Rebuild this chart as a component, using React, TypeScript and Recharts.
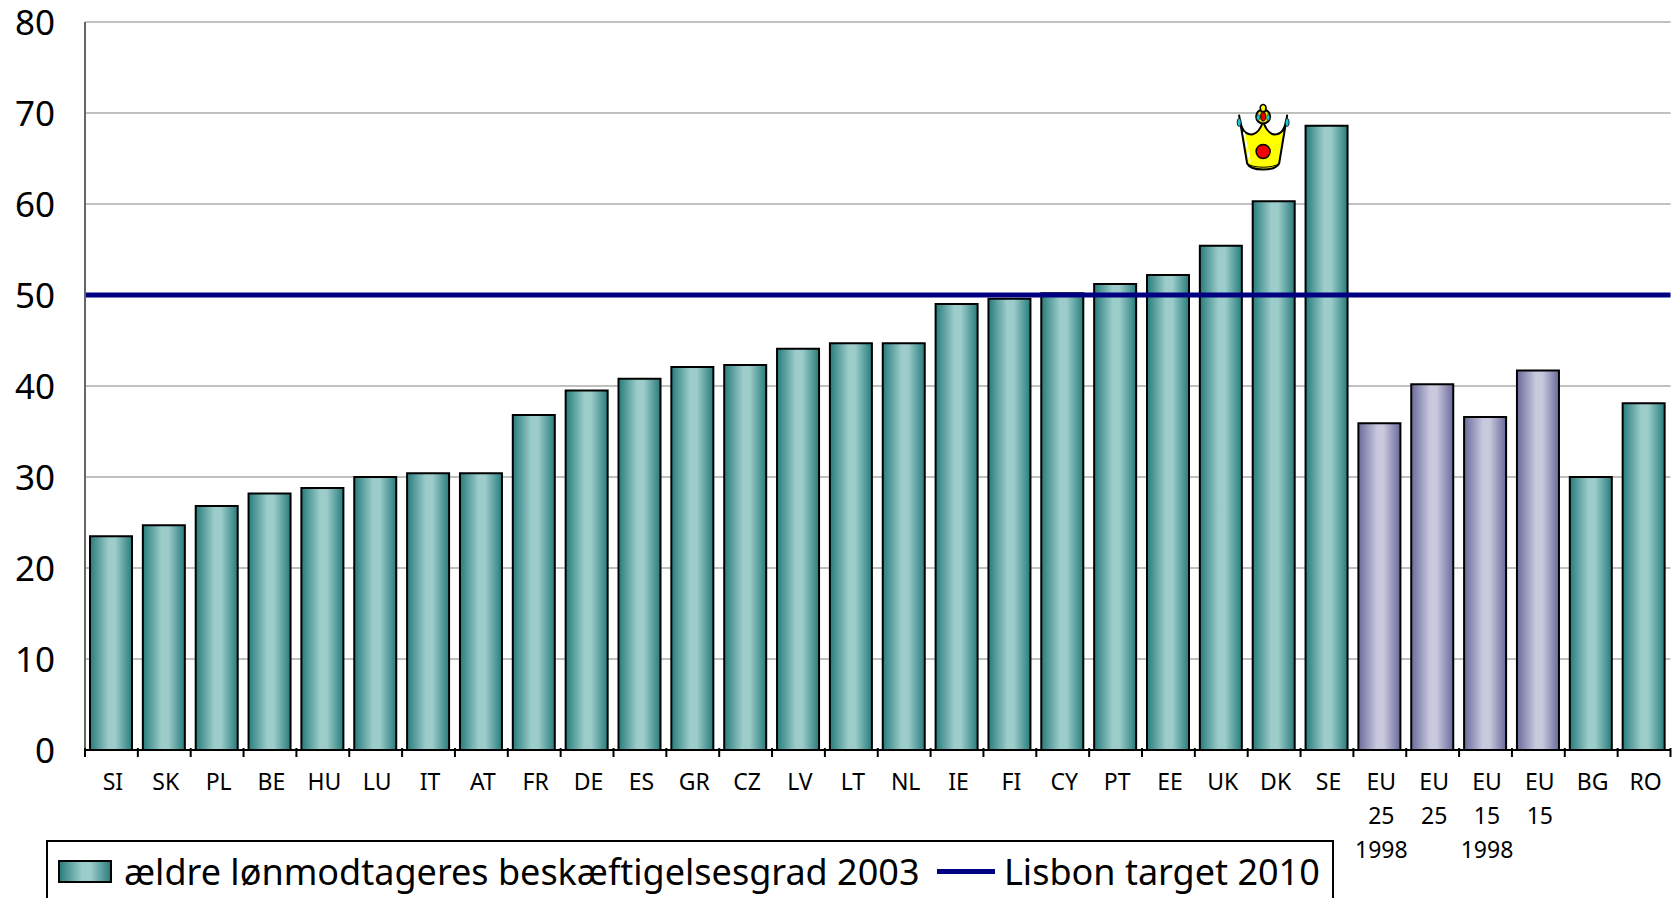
import { ComposedChart, Bar, Cell, XAxis, YAxis, CartesianGrid, ReferenceLine, ReferenceDot, Legend } from 'recharts';

const categories = ['SI', 'SK', 'PL', 'BE', 'HU', 'LU', 'IT', 'AT', 'FR', 'DE', 'ES', 'GR', 'CZ', 'LV', 'LT', 'NL', 'IE', 'FI', 'CY', 'PT', 'EE', 'UK', 'DK', 'SE', 'EU 25 1998', 'EU 25', 'EU 15 1998', 'EU 15', 'BG', 'RO'];
const rates = [23.5, 24.7, 26.8, 28.2, 28.8, 30, 30.4, 30.4, 36.8, 39.5, 40.8, 42.1, 42.3, 44.1, 44.7, 44.7, 49, 49.6, 50.2, 51.2, 52.2, 55.4, 60.3, 68.6, 35.9, 40.2, 36.6, 41.7, 30, 38.1];
const euAverages = ['EU 25 1998', 'EU 25', 'EU 15 1998', 'EU 15'];
const yTicks = [0, 10, 20, 30, 40, 50, 60, 70, 80];
const lisbonTarget = 50;
const crownCategory = 'DK';
const crownValue = 67.2;
const barLabel = 'ældre lønmodtageres beskæftigelsesgrad 2003';
const lineLabel = 'Lisbon target 2010';

const data = categories.map((c, i) => ({ name: c, rate: rates[i] }));

const WIDTH = 1674;
const HEIGHT = 898;
const LEFT = 85;
const RIGHT = 3.5;
const FONT = '"Noto Sans", sans-serif';
const bandWidth = (WIDTH - LEFT - RIGHT) / categories.length;

function CategoryTick({ x, y, payload, index }: any) {
  const lines = String(payload.value).split(' ');
  const last = index === categories.length - 1;
  return (
    <g>
      <line x1={x - bandWidth / 2} x2={x - bandWidth / 2} y1={y - 10} y2={y - 1} stroke="#000" strokeWidth={2} />
      {last && <line x1={x + bandWidth / 2} x2={x + bandWidth / 2} y1={y - 10} y2={y - 1} stroke="#000" strokeWidth={2} />}
      <text x={x + 1} y={y + 32} textAnchor="middle" fontFamily={FONT} fontSize={23} fill="#000">
        {lines.map((l, i) => (
          <tspan key={i} x={x + 1.5} dy={i === 0 ? 0 : 34}>{l}</tspan>
        ))}
      </text>
    </g>
  );
}

// the crown clipart sits a little left of the DK bar centre
function Crown({ cx, cy }: any) {
  return (
    <g transform={`translate(${cx - 11},${cy})`} stroke="#000" strokeLinejoin="round">
      <path d="M-24,-23 C-22,-8 -18,-4 -11,-4 C-5,-5 -2,-11 0,-17 C2,-11 5,-5 11,-4 C18,-4 22,-8 24,-23 L16,25 C12,33 -12,33 -16,25 Z" fill="#ffff00" strokeWidth={2} />
      <path d="M-16,25 C-10,30 10,30 16,25" fill="none" strokeWidth={1} />
      <path d="M-19,-6 L-13,24" stroke="#fff" strokeWidth={1.5} fill="none" />
      <circle cx={0} cy={-22} r={7} fill="#e8e800" strokeWidth={2} />
      <path d="M-3,-31 C-2,-35 2,-35 3,-31 L2,-27 L-2,-27 Z" fill="#ffff00" strokeWidth={1.5} />
      <ellipse cx={0} cy={-22} rx={2.5} ry={4.5} fill="#e00000" strokeWidth={1} />
      <ellipse cx={-5} cy={-21} rx={1.5} ry={3} fill="#20d0e0" strokeWidth={0.5} />
      <ellipse cx={5} cy={-21} rx={1.5} ry={3} fill="#20d0e0" strokeWidth={0.5} />
      <ellipse cx={-24} cy={-16} rx={2} ry={4} fill="#20c0d0" strokeWidth={0.8} />
      <ellipse cx={24} cy={-16} rx={2} ry={4} fill="#20c0d0" strokeWidth={0.8} />
      <circle cx={0} cy={13} r={7} fill="#f00000" strokeWidth={1.5} />
    </g>
  );
}

function ChartLegend() {
  return (
    <div style={{ position: 'relative', width: 1288, height: 70, boxSizing: 'border-box', border: '2px solid #000', background: '#fff', fontFamily: FONT, fontSize: 36, color: '#000' }}>
      <svg width={60} height={30} style={{ position: 'absolute', left: 10, top: 18 }}>
        <rect x={1} y={1} width={52} height={21} fill="url(#tealLegend)" stroke="#000" strokeWidth={2} />
        <defs>
          <linearGradient id="tealLegend" x1="0" x2="1" y1="0" y2="0">
            <stop offset="0" stopColor="#277c7c" />
            <stop offset="0.45" stopColor="#9dcdcb" />
            <stop offset="0.6" stopColor="#9dcdcb" />
            <stop offset="1" stopColor="#277c7c" />
          </linearGradient>
        </defs>
      </svg>
      <span style={{ position: 'absolute', left: 76, top: 5, whiteSpace: 'nowrap' }}>{barLabel}</span>
      <div style={{ position: 'absolute', left: 889, top: 27, width: 58, height: 5, background: '#000080' }} />
      <span style={{ position: 'absolute', left: 956, top: 5, whiteSpace: 'nowrap' }}>{lineLabel}</span>
    </div>
  );
}

export default function App() {
  return (
    <div style={{ position: 'absolute', left: 0, top: 0, width: WIDTH, height: HEIGHT, overflow: 'hidden', background: '#fff' }}>
      <ComposedChart width={WIDTH} height={HEIGHT} data={data} barSize={42} margin={{ top: 22, right: RIGHT, bottom: 0, left: 0 }}>
        <defs>
          <linearGradient id="teal" x1="0" x2="1" y1="0" y2="0">
            <stop offset="0" stopColor="#277c7c" />
            <stop offset="0.45" stopColor="#9dcdcb" />
            <stop offset="0.6" stopColor="#9dcdcb" />
            <stop offset="1" stopColor="#277c7c" />
          </linearGradient>
          <linearGradient id="lilac" x1="0" x2="1" y1="0" y2="0">
            <stop offset="0" stopColor="#6a6a9c" />
            <stop offset="0.45" stopColor="#c9c9de" />
            <stop offset="0.6" stopColor="#c9c9de" />
            <stop offset="1" stopColor="#6a6a9c" />
          </linearGradient>
        </defs>
        <CartesianGrid horizontal vertical={false} stroke="#c0c0c0" strokeWidth={2} />
        <XAxis dataKey="name" interval={0} height={148} stroke="#000" strokeWidth={2} tickLine={false} tick={<CategoryTick />} />
        <YAxis domain={[0, 80]} ticks={yTicks} width={LEFT} stroke="#666" strokeWidth={2} tickLine={false} tickSize={0} tickMargin={30}
          tick={{ fontFamily: FONT, fontSize: 35, fill: '#000', dy: 1 }} />
        <Bar dataKey="rate" name={barLabel} stroke="#000" strokeWidth={2} isAnimationActive={false}>
          {categories.map(c => (
            <Cell key={c} fill={euAverages.includes(c) ? 'url(#lilac)' : 'url(#teal)'} />
          ))}
        </Bar>
        <ReferenceLine y={lisbonTarget} stroke="#000080" strokeWidth={5} />
        <ReferenceDot x={crownCategory} y={crownValue} shape={<Crown />} />
        <Legend layout="vertical" align="center" verticalAlign="middle" content={<ChartLegend />}
          wrapperStyle={{ position: 'absolute', left: 46, top: 840, width: 1288, bottom: 'auto', right: 'auto' }} />
      </ComposedChart>
    </div>
  );
}
